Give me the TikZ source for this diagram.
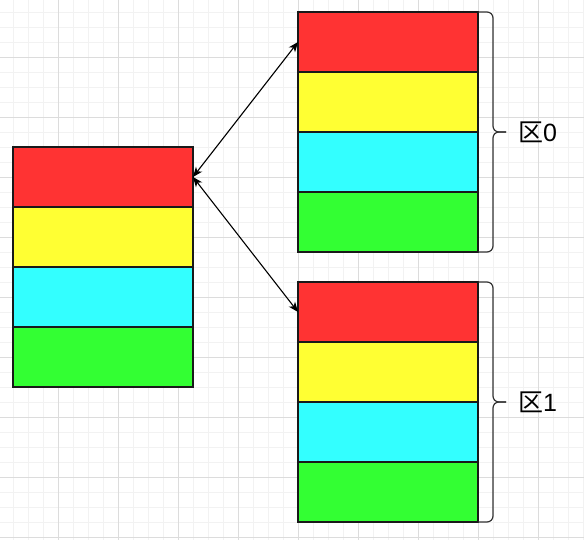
\documentclass[tikz,border=0pt]{standalone}
\usepackage{fontspec}
\setmainfont{Liberation Sans}
\newfontfamily\cjkfont{Noto Sans CJK SC}
\usepackage{tikz}
\usetikzlibrary{calc,positioning,arrows.meta}

\definecolor{cellred}{HTML}{FF3333}
\definecolor{cellyellow}{HTML}{FFFF33}
\definecolor{cellcyan}{HTML}{33FFFF}
\definecolor{cellgreen}{HTML}{33FF33}
\definecolor{gridminor}{HTML}{F2F2F2}
\definecolor{gridmajor}{HTML}{DCDCDC}

\begin{document}
\begin{tikzpicture}[x=1pt,y=-1pt,
    cell/.style={draw=black!90,line width=1.3pt,minimum width=180pt,minimum height=60pt,inner sep=0pt,outer sep=0pt},
    link/.style={{Stealth[length=10pt,width=8pt,inset=3pt]}-{Stealth[length=10pt,width=8pt,inset=3pt]},line width=1.1pt},
    curly/.style={draw=black!80,line width=1.2pt,rounded corners=6pt},
    zone/.style={anchor=west,inner sep=0pt,font=\fontsize{25}{25}\selectfont}]

            \useasboundingbox (0,0) rectangle (584,540);

            % background grid
            \begin{scope}[line width=0.8pt]
                \foreach \x in {-2,13,...,584} \draw[gridminor] (\x,0) -- (\x,540);
                \foreach \y in {-3,12,...,540} \draw[gridminor] (0,\y) -- (584,\y);
                \foreach \x in {-2,58,...,584} \draw[gridmajor] (\x,0) -- (\x,540);
                \foreach \y in {-3,57,...,540} \draw[gridmajor] (0,\y) -- (584,\y);
            \end{scope}

            % left stack
            \node[cell,fill=cellred] (l0) at (103,177) {};
            \node[cell,fill=cellyellow,below=0pt of l0] (l1) {};
            \node[cell,fill=cellcyan,below=0pt of l1] (l2) {};
            \node[cell,fill=cellgreen,below=0pt of l2] (l3) {};

            % zone 0
            \node[cell,fill=cellred] (t0) at (388,42) {};
            \node[cell,fill=cellyellow,below=0pt of t0] (t1) {};
            \node[cell,fill=cellcyan,below=0pt of t1] (t2) {};
            \node[cell,fill=cellgreen,below=0pt of t2] (t3) {};

            % zone 1
            \node[cell,fill=cellred] (b0) at (388,312) {};
            \node[cell,fill=cellyellow,below=0pt of b0] (b1) {};
            \node[cell,fill=cellcyan,below=0pt of b1] (b2) {};
            \node[cell,fill=cellgreen,below=0pt of b2] (b3) {};

            \draw[link] (l0.east) -- (t0.west);
            \draw[link] (l0.east) -- (b0.west);

            % braces
            \coordinate (tip0) at ([xshift=28pt]t1.south east);
            \coordinate (mid0) at ([xshift=15pt]t1.south east);
            \draw[curly] (t0.north east) -| (mid0) -- (tip0);
            \draw[curly] (tip0) -- (mid0) |- (t3.south east);
            \node[zone] (z0) at ([xshift=12pt]tip0) {{\cjkfont 区}0};

            \coordinate (tip1) at ([xshift=28pt]b1.south east);
            \coordinate (mid1) at ([xshift=15pt]b1.south east);
            \draw[curly] (b0.north east) -| (mid1) -- (tip1);
            \draw[curly] (tip1) -- (mid1) |- (b3.south east);
            \node[zone] (z1) at ([xshift=12pt]tip1) {{\cjkfont 区}1};
        \end{tikzpicture}
\end{document}
